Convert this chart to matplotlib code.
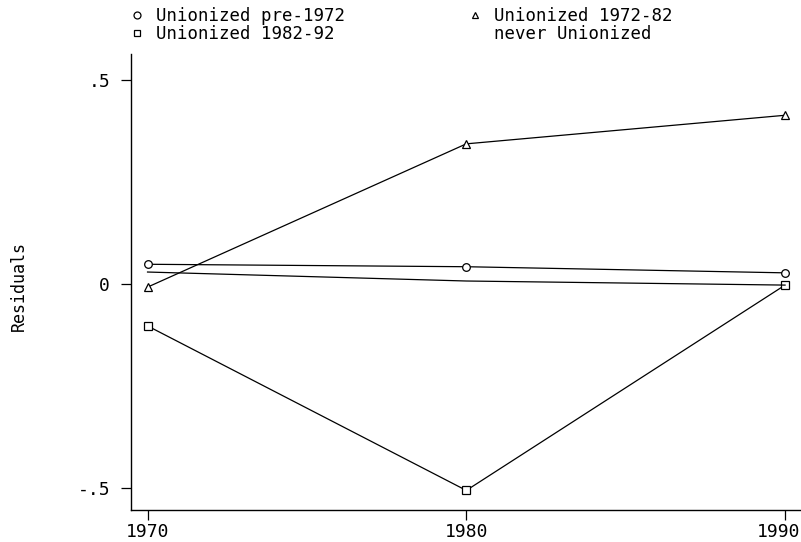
import matplotlib
matplotlib.use("Agg")
import matplotlib.pyplot as plt
from matplotlib.lines import Line2D
from matplotlib.transforms import ScaledTranslation

plt.rcParams["font.family"] = "DejaVu Sans Mono"

# residuals
years = [1970, 1980, 1990]
pre_1972 = [0.049, 0.043, 0.028]
union_72_82 = [-0.007, 0.344, 0.414]
union_82_92 = [-0.102, -0.505, -0.002]
never_union = [0.030, 0.008, -0.002]

yticks = [-0.5, 0, 0.5]
ytick_labels = ["-.5", "0", ".5"]
xticks = [1970, 1980, 1990]

fig = plt.figure(figsize=(8.01, 5.42), dpi=100)
ax = fig.add_axes([0.1635, 0.059, 0.8365, 0.8413])

lw = 0.9
mk = dict(color="black", lw=lw, mfc="white", mec="black", mew=0.9, ms=5.5)
ax.plot(years, pre_1972, marker="o", **mk)
ax.plot(years, union_72_82, marker="^", **mk)
ax.plot(years, union_82_92, marker="s", **mk)
ax.plot(years, never_union, color="black", lw=lw)

ax.set_xlim(1969.48, 1990.5)
ax.set_ylim(-0.553, 0.564)
ax.set_xticks(xticks)
ax.set_xticklabels([str(x) for x in xticks])
ax.set_yticks(yticks)
ax.set_yticklabels(ytick_labels)
ax.tick_params(axis="y", length=7, width=0.9, pad=8, labelsize=13)
ax.tick_params(axis="x", length=7, width=0.9, pad=2, labelsize=13)
for s in ["top", "right"]:
    ax.spines[s].set_visible(False)
for s in ["left", "bottom"]:
    ax.spines[s].set_linewidth(1.0)

# last x label sits a bit left so it stays inside the figure
last = ax.get_xticklabels()[-1]
last.set_transform(last.get_transform() + ScaledTranslation(-6 / 100, 0, fig.dpi_scale_trans))

fig.text(19 / 801, 1 - 286 / 542, "Residuals", rotation=90,
         ha="center", va="center", fontsize=12)

# legend: two columns, filled column-wise
handles = [
    Line2D([], [], ls="none", marker="o", mfc="white", mec="black", ms=5, mew=0.9),
    Line2D([], [], ls="none", marker="s", mfc="white", mec="black", ms=5, mew=0.9),
    Line2D([], [], ls="none", marker="^", mfc="white", mec="black", ms=5, mew=0.9),
    Line2D([], [], ls="none"),
]
labels = ["Unionized pre-1972", "Unionized 1982-92",
          "Unionized 1972-82", "never Unionized"]
fig.legend(handles, labels, ncol=2, frameon=False, loc="upper left",
           bbox_to_anchor=(128 / 801, 1 - 7 / 542), fontsize=12.5,
           handlelength=1.0, handletextpad=0.6, columnspacing=7.0,
           labelspacing=-0.02, borderpad=0, borderaxespad=0)

fig.savefig("out.png", dpi=100)
